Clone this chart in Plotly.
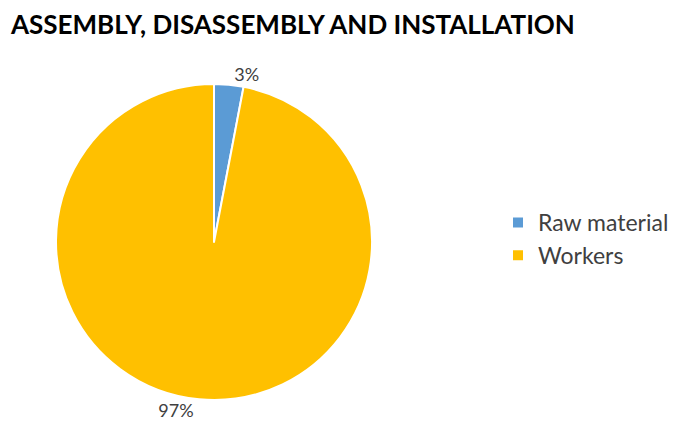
import plotly.graph_objects as go

title = "ASSEMBLY, DISASSEMBLY AND INSTALLATION"
categories = ["Raw material", "Workers"]
values = [3, 97]
colors = ["#5B9BD5", "#FFC000"]

W, H = 678, 430
cx, cy, r = 206, 234, 158

fig = go.Figure(go.Pie(
    labels=categories,
    values=values,
    sort=False,
    direction="clockwise",
    rotation=0,
    marker=dict(colors=colors, line=dict(color="white", width=2)),
    textinfo="percent",
    texttemplate="%{percent:.0%}",
    textposition="outside",
    textfont=dict(family="Lato, Carlito, Calibri, sans-serif", size=18, color="#404040"),
    domain=dict(x=[(cx - r) / W, (cx + r) / W], y=[1 - (cy + r) / H, 1 - (cy - r) / H]),
    hoverinfo="label+percent",
))

fig.update_layout(
    width=W, height=H,
    margin=dict(l=0, r=0, t=0, b=0),
    paper_bgcolor="white",
    title=dict(text="<b>" + title + "</b>", x=3 / W, xanchor="left", y=1 - 8 / H, yanchor="top",
               font=dict(family="Lato, Carlito, Calibri, sans-serif", size=26, color="black")),
    legend=dict(x=490 / W, xanchor="left", y=1 - 231 / H, yanchor="middle",
                font=dict(family="Lato, Carlito, Calibri, sans-serif", size=23, color="#404040"),
                tracegroupgap=0, itemsizing="constant"),
    showlegend=True,
)

fig.write_html("out.html")
